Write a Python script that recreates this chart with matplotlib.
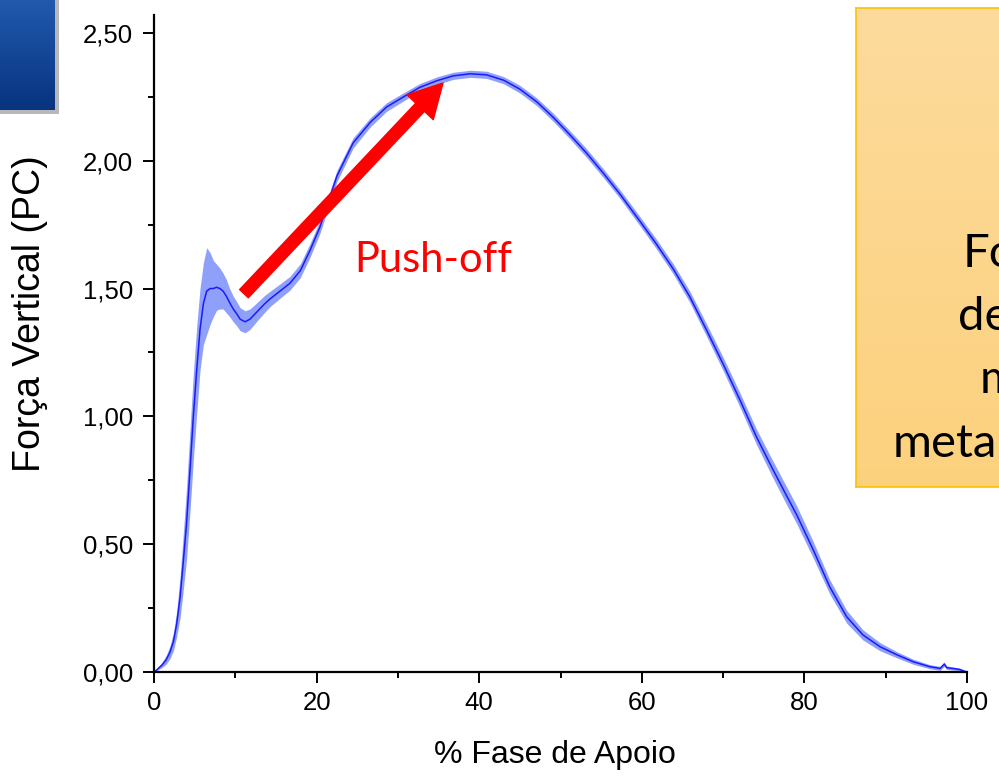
import numpy as np
import matplotlib
matplotlib.use('Agg')
import matplotlib.pyplot as plt
from matplotlib.patches import FancyArrowPatch, Rectangle, ArrowStyle
from matplotlib.ticker import FixedLocator, MultipleLocator

plt.rcParams['font.family'] = ['Liberation Sans', 'DejaVu Sans']

# ---------------- data ----------------
stance_pct = [0, 0.33, 1.0, 1.5, 1.97, 2.4, 2.8, 3.2, 3.6, 4.0, 4.43, 4.84, 5.25, 5.66, 6.07, 6.48,
              6.9, 7.3, 7.7, 8.1, 8.5, 8.9, 9.3, 9.75, 10.2, 10.6, 11.2, 11.8, 12.4, 13.0,
              13.6, 14.3, 15.5, 16.7, 18.0, 19.2, 20.4, 22.5, 24.5, 26.6, 28.6, 30.7, 32.7,
              34.8, 36.8, 38.9, 40.9, 43.0, 45.0, 47.1, 49.1, 51.2, 53.2, 55.3, 57.3, 59.8,
              61.8, 63.9, 65.9, 68.0, 70.0, 72.1, 74.1, 76.0, 77.8, 79.05, 81.1, 83.1, 85.2,
              87.2, 89.3, 91.4, 93.4, 95.4, 96.7, 97.2, 97.5, 99.1, 100]
force_mean = [0, 0.008, 0.028, 0.048, 0.078, 0.12, 0.19, 0.29, 0.43, 0.58, 0.79, 1.0, 1.18, 1.34, 1.44, 1.49,
              1.50, 1.50, 1.505, 1.50, 1.49, 1.47, 1.445, 1.42, 1.40, 1.38, 1.37, 1.38, 1.40, 1.42,
              1.44, 1.46, 1.49, 1.52, 1.57, 1.65, 1.74, 1.94, 2.07, 2.15, 2.21, 2.25, 2.287,
              2.313, 2.332, 2.34, 2.336, 2.315, 2.28, 2.23, 2.17, 2.10, 2.03, 1.95, 1.87, 1.762,
              1.674, 1.575, 1.468, 1.335, 1.205, 1.062, 0.92, 0.80, 0.69, 0.615, 0.477, 0.334, 0.216,
              0.145, 0.099, 0.067, 0.04, 0.021, 0.014, 0.031, 0.017, 0.01, 0.0]
force_sd = [0, 0.003, 0.01, 0.017, 0.025, 0.035, 0.05, 0.08, 0.11, 0.14, 0.16, 0.17, 0.17, 0.16, 0.16, 0.17,
            0.14, 0.11, 0.09, 0.08, 0.07, 0.065, 0.055, 0.05, 0.047, 0.045, 0.043, 0.04, 0.037, 0.035,
            0.033, 0.03, 0.028, 0.027, 0.027, 0.027, 0.025, 0.022, 0.02, 0.018, 0.017, 0.016, 0.015,
            0.015, 0.014, 0.014, 0.014, 0.014, 0.015, 0.015, 0.016, 0.016, 0.017, 0.017, 0.017, 0.018,
            0.019, 0.02, 0.022, 0.024, 0.026, 0.028, 0.03, 0.033, 0.035, 0.035, 0.032, 0.028, 0.025,
            0.02, 0.016, 0.012, 0.01, 0.008, 0.008, 0.008, 0.007, 0.005, 0.0]

x_ticks = [0, 20, 40, 60, 80, 100]
x_tick_labels = ['0', '20', '40', '60', '80', '100']
y_ticks = [0.0, 0.5, 1.0, 1.5, 2.0, 2.5]
y_tick_labels = ['0,00', '0,50', '1,00', '1,50', '2,00', '2,50']

x_label = '% Fase de Apoio'
y_label = 'Força Vertical (PC)'
annotation_text = 'Push-off'
arrow_tail = (11.07, 1.48)
arrow_tip = (35.55, 2.304)
box_lines = ['Fo', 'de', 'm', 'meta']

W, H = 999, 778

# ---------------- figure ----------------
fig = plt.figure(figsize=(W / 100, H / 100), dpi=100)
fig.patch.set_facecolor('white')

ax = fig.add_axes([154 / W, 1 - 672 / H, (967 - 154) / W, (672 - 15) / H])
x = np.array(stance_pct)
m = np.array(force_mean)
s = np.array(force_sd)
ax.fill_between(x, m - s, m + s, color='#8fa0fb', linewidth=0, zorder=2)
ax.plot(x, m, color='#1a1aff', linewidth=1.1, zorder=3, solid_joinstyle='round')

ax.set_xlim(0, 100)
ax.set_ylim(0, 2.57)
for side in ['top', 'right']:
    ax.spines[side].set_visible(False)
for side in ['left', 'bottom']:
    ax.spines[side].set_linewidth(1.6)
ax.xaxis.set_major_locator(FixedLocator(x_ticks))
ax.set_xticklabels(x_tick_labels)
ax.yaxis.set_major_locator(FixedLocator(y_ticks))
ax.set_yticklabels(y_tick_labels)
ax.xaxis.set_minor_locator(MultipleLocator(10))
ax.yaxis.set_minor_locator(MultipleLocator(0.25))
ax.tick_params(which='major', direction='out', length=8, width=1.4, labelsize=18.5, pad=6)
ax.tick_params(which='minor', direction='out', length=4, width=1.4)
ax.tick_params(axis='y', which='major', pad=7)
for sp in ax.spines.values():
    sp.set_zorder(4)

fig.text(30 / W, 1 - 314 / H, y_label, rotation=90, ha='center', va='center', fontsize=27)
fig.text(555 / W, 1 - 755 / H, x_label, ha='center', va='center', fontsize=23)

arrow = FancyArrowPatch(arrow_tail, arrow_tip,
                        arrowstyle=ArrowStyle.Simple(head_length=24, head_width=26, tail_width=8.6),
                        mutation_scale=1, color='#ff0000', shrinkA=0, shrinkB=0, zorder=5)
ax.add_patch(arrow)
ax.text(24.6, 1.565, annotation_text, color='#ff0000', fontsize=30,
        family=['Lato', 'DejaVu Sans'], ha='left', va='baseline', zorder=6)

# ---------------- decorative slide elements ----------------
g = np.linspace(0, 1, 100)[:, None]

# soft shadow of the dark blue box
sh = fig.add_axes([0, 1 - 114 / H, 59 / W, 114 / H])
sh.set_zorder(0.5)
sh.add_patch(Rectangle((0, 0), 1, 1, facecolor='#b8b8b8', edgecolor='none'))
sh.set_xlim(0, 1)
sh.set_ylim(0, 1)
sh.set_axis_off()

# dark blue box (top-left)
bx = fig.add_axes([0, 1 - 110 / H, 55 / W, 110 / H])
bx.set_zorder(1)
top_c = np.array([0.13, 0.35, 0.68])
bot_c = np.array([0.03, 0.20, 0.50])
grad = top_c[None, None, :] * (1 - g[:, :, None]) + bot_c[None, None, :] * g[:, :, None]
bx.imshow(np.repeat(grad, 2, axis=1), aspect='auto', extent=[0, 1, 0, 1])
bx.set_axis_off()

# orange text box (right)
ob = fig.add_axes([856 / W, 1 - 487 / H, 1 - 856 / W + 0.01, (487 - 8) / H])
top_o = np.array([253, 219, 156]) / 255
bot_o = np.array([252, 209, 126]) / 255
ograd = top_o[None, None, :] * (1 - g[:, :, None]) + bot_o[None, None, :] * g[:, :, None]
ob.imshow(np.repeat(ograd, 2, axis=1), aspect='auto', extent=[0, 1, 0, 1])
ob.set_xticks([])
ob.set_yticks([])
for sp in ob.spines.values():
    sp.set_color('#ffc000')
    sp.set_linewidth(1.2)

box_pos = [(963, 267), (958, 330), (980, 393), (893, 457)]
for txt, (px, py) in zip(box_lines, box_pos):
    fig.text(px / W, 1 - py / H, txt, fontsize=34, family=['Lato', 'DejaVu Sans'],
             ha='left', va='baseline', color='black', zorder=10)

fig.savefig('out.png', dpi=100)
